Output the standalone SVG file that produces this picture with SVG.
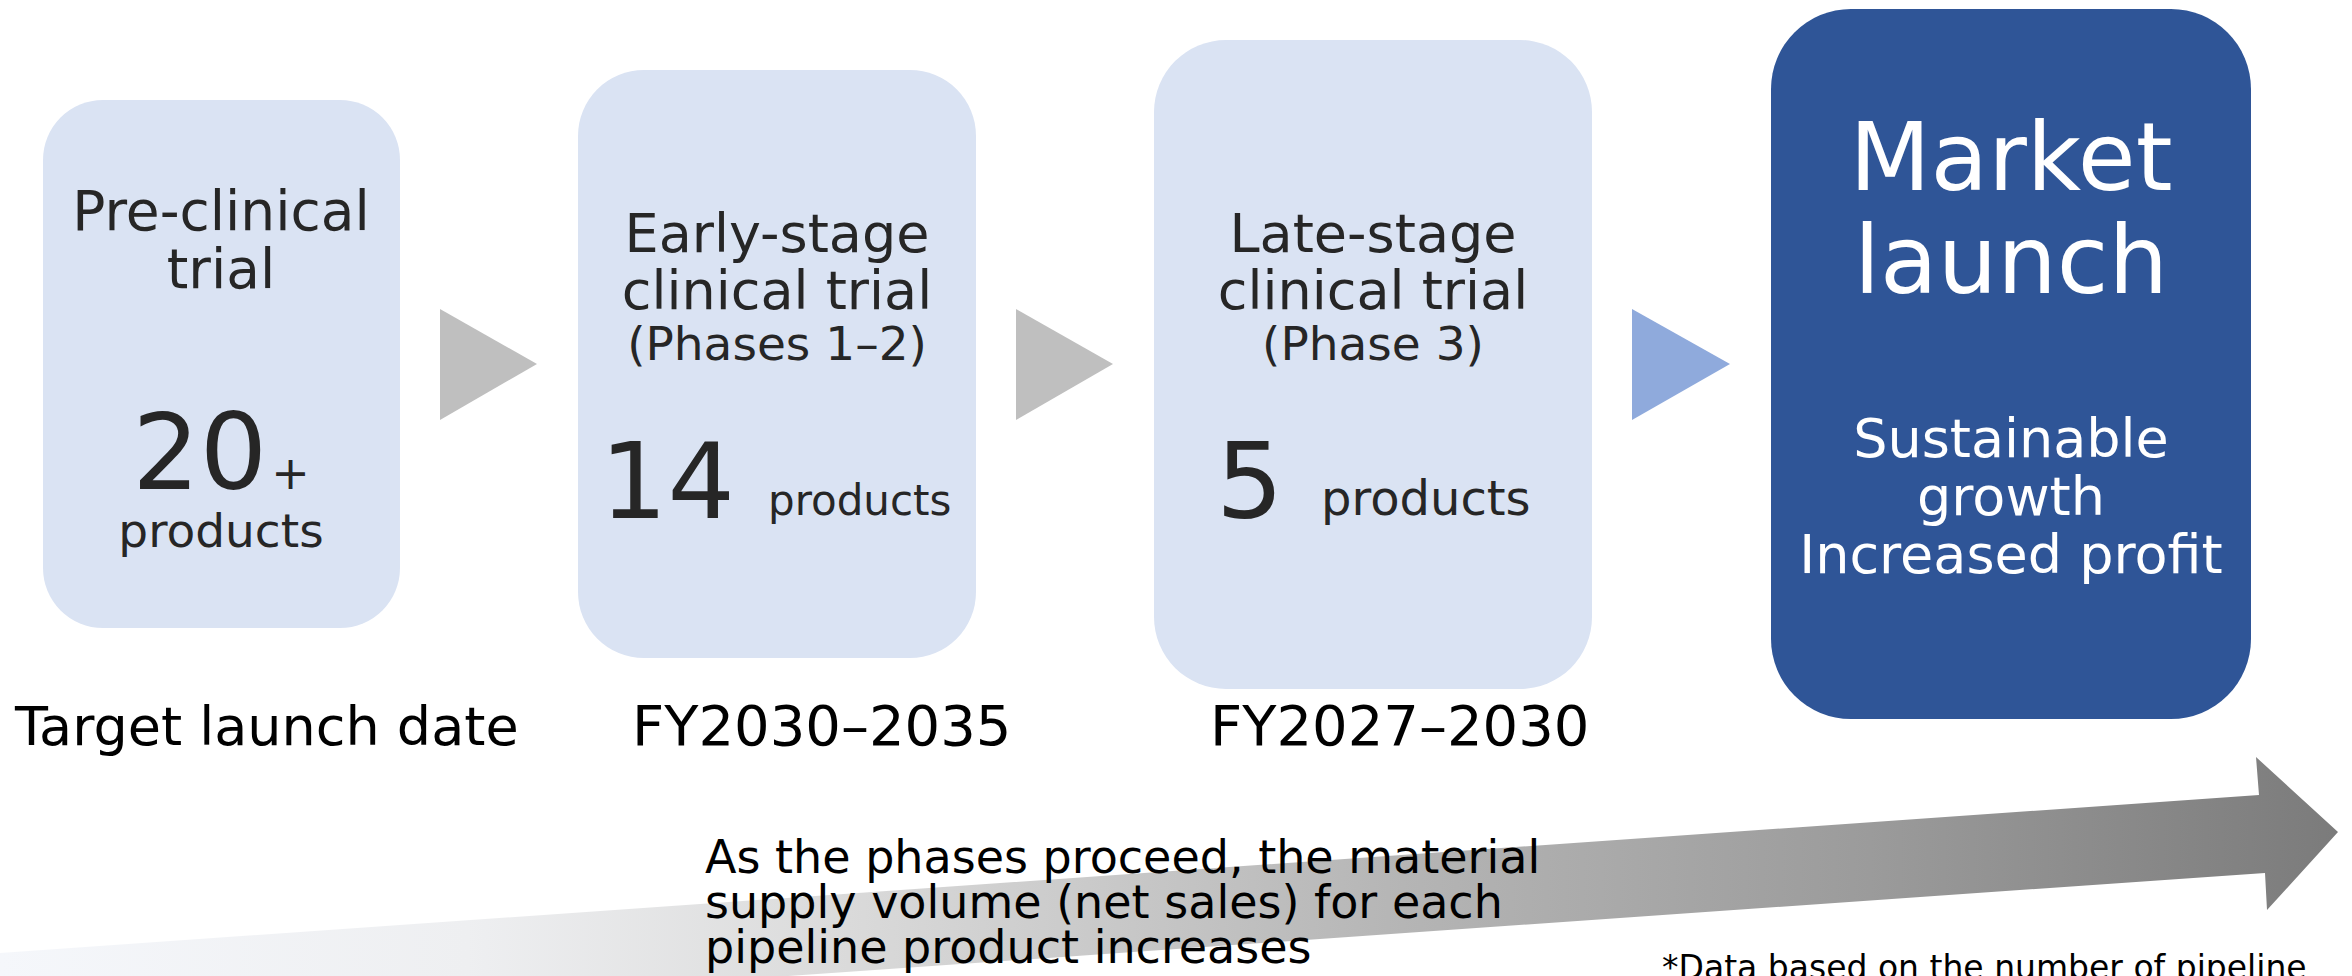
<svg xmlns="http://www.w3.org/2000/svg" width="2352" height="976" viewBox="0 0 2352 976">
<style>
text{font-family:"DejaVu Sans","Noto Sans",sans-serif;}
.lb{fill:#dae3f3;}
.dk{fill:#2f5597;}
.t{fill:#262626;text-anchor:middle;}
.w{fill:#ffffff;text-anchor:middle;}
.lab{fill:#000000;}
.tri{fill:#bfbfbf;}
.trib{fill:#8faadc;}
</style>
<defs>
<linearGradient id="g" gradientUnits="userSpaceOnUse" x1="0" y1="0" x2="2338" y2="0">
<stop offset="0" stop-color="#f5f7fb"/>
<stop offset="0.2" stop-color="#eeeff1"/>
<stop offset="0.35" stop-color="#dcdcdc"/>
<stop offset="0.6" stop-color="#b5b5b5"/>
<stop offset="0.8" stop-color="#9b9b9b"/>
<stop offset="1" stop-color="#7b7b7b"/>
</linearGradient>
</defs>
<rect width="2352" height="976" fill="#ffffff"/>

<g id="growth-arrow">
<polygon points="0,953 2259,795 2256,757 2338,832 2267,910 2265,873 0,1031" fill="url(#g)"/>
</g>

<g id="connectors">
<polygon class="tri" points="440,309 537,364 440,420"/>
<polygon class="tri" points="1016,309 1113,364 1016,420"/>
<polygon class="trib" points="1632,309 1730,364 1632,420"/>
</g>

<g id="node-preclinical">
<rect class="lb" x="43" y="100" width="357" height="528" rx="60" ry="60"/>
<text class="t" x="221" y="230" font-size="55">Pre-clinical</text>
<text class="t" x="221" y="288" font-size="55">trial</text>
<text class="t" x="221" y="489"><tspan font-size="106">20</tspan><tspan font-size="46" dx="4">+</tspan></text>
<text class="t" x="221" y="547" font-size="47">products</text>
</g>

<g id="node-early">
<rect class="lb" x="578" y="70" width="398" height="588" rx="66" ry="66"/>
<text class="t" x="777" y="252" font-size="54">Early-stage</text>
<text class="t" x="777" y="309" font-size="54">clinical trial</text>
<text class="t" x="777" y="360" font-size="47">(Phases 1–2)</text>
<text x="600" y="518" font-size="106" fill="#262626">14</text>
<text x="768" y="515" font-size="42" fill="#262626">products</text>
</g>

<g id="node-late">
<rect class="lb" x="1154" y="40" width="438" height="649" rx="72" ry="72"/>
<text class="t" x="1373" y="252" font-size="54">Late-stage</text>
<text class="t" x="1373" y="309" font-size="54">clinical trial</text>
<text class="t" x="1373" y="360" font-size="47">(Phase 3)</text>
<text x="1216" y="518" font-size="106" fill="#262626">5</text>
<text x="1321" y="515" font-size="48" fill="#262626">products</text>
</g>

<g id="node-market">
<rect class="dk" x="1771" y="9" width="480" height="710" rx="80" ry="80"/>
<text class="w" x="2011" y="190" font-size="94">Market</text>
<text class="w" x="2011" y="293" font-size="94">launch</text>
<text class="w" x="2011" y="457" font-size="54">Sustainable</text>
<text class="w" x="2011" y="515" font-size="54">growth</text>
<text class="w" x="2011" y="573" font-size="54">Increased profit</text>
</g>

<g id="labels">
<text class="lab" x="15" y="745" font-size="54">Target launch date</text>
<text class="lab" x="632" y="745" font-size="56">FY2030–2035</text>
<text class="lab" x="1210" y="745" font-size="56">FY2027–2030</text>
<text x="705" y="873" font-size="46" fill="#000000">As the phases proceed, the material</text>
<text x="705" y="918" font-size="46" fill="#000000">supply volume (net sales) for each</text>
<text x="705" y="963" font-size="46" fill="#000000">pipeline product increases</text>
<text x="1662" y="979" font-size="33" fill="#000000">*Data based on the number of pipeline</text>
</g>
</svg>
